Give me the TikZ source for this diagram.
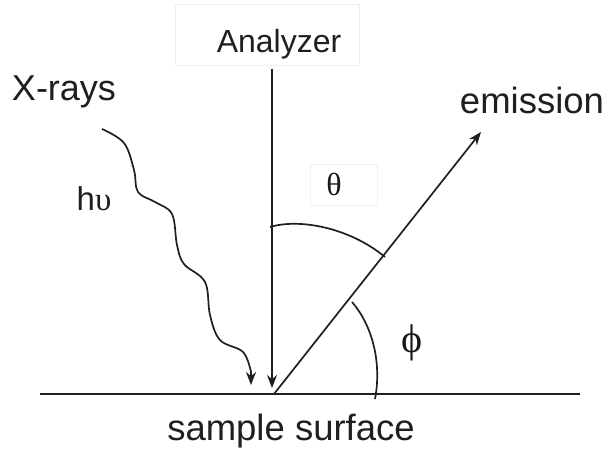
\documentclass[tikz,border=0pt]{standalone}
\usepackage{fontspec}
\setmainfont{Liberation Sans}
\newfontfamily\serifgreek{Liberation Serif}
\usetikzlibrary{arrows.meta}
\begin{document}
\begin{tikzpicture}[x=1pt,y=-1pt,
  line/.style={line width=1.7pt,black!88},
  arr/.style={line, -{Stealth[length=13pt,width=10pt]}},
  faintbox/.style={draw=black!6,line width=0.8pt,inner sep=0pt},
  lbl/.style={text=black!88,inner sep=0pt,font=\fontsize{35}{40}\selectfont},
  greek/.style={text=black!90,inner sep=0pt,font=\serifgreek\fontsize{32}{38}\selectfont}]
\useasboundingbox (0,0) rectangle (606,452);
% faint boxes
\node[faintbox,minimum width=184pt,minimum height=61pt] (abox) at (267,34.5) {};
\node[faintbox,minimum width=67pt,minimum height=41pt] (tbox) at (343.5,184.5) {};
% texts
\node[lbl,font=\fontsize{32}{38}\selectfont] (analyzer) at (279,44) {Analyzer};
\node[lbl,font=\fontsize{36}{40}\selectfont] (xrays) at (64,92) {X-rays};
\node[lbl,font=\fontsize{36.5}{40}\selectfont] (emission) at (532,100) {emission};
\node[lbl,font=\fontsize{36.5}{40}\selectfont] (surface) at (291,431) {sample surface};
\node[lbl,font=\fontsize{33}{36}\selectfont,anchor=base] (hv) at (94,211) {h{\serifgreek υ}};
\node[greek] (theta) at (334,184) {θ};
\node[greek,font=\serifgreek\fontsize{40}{46}\selectfont] (phi) at (412,343) {ϕ};
% geometry
\coordinate (sL) at (40,394);
\coordinate (sR) at (580,394);
\coordinate (O) at (274,394);
\coordinate (vTop) at (272,69);
\coordinate (vTip) at (272,388);
\coordinate (eTip) at (481,132);
\draw[line] (sL) -- (sR);
\draw[arr] (vTop) -- (vTip);
\draw[arr] (O) -- (eTip);
% theta arc
\coordinate (t1) at (270,227);
\coordinate (t2) at (385,257);
\draw[line] (t1) .. controls (300,218) and (350,228) .. (t2);
% phi arc
\coordinate (p1) at (352,302);
\coordinate (p2) at (375,399);
\draw[line] (p1) .. controls (372,325) and (382,362) .. (p2);
% wavy x-ray
\coordinate (w0) at (102,129);
\coordinate (wTip) at (251,385);
\draw[arr] plot[smooth,tension=0.6] coordinates {(102,129) (124,143) (134,170) (138,192) (155,202) (172,214) (177,245) (184,264) (205,282) (210,315) (220,340) (243,352) (251,372)} -- (wTip);
\end{tikzpicture}
\end{document}
